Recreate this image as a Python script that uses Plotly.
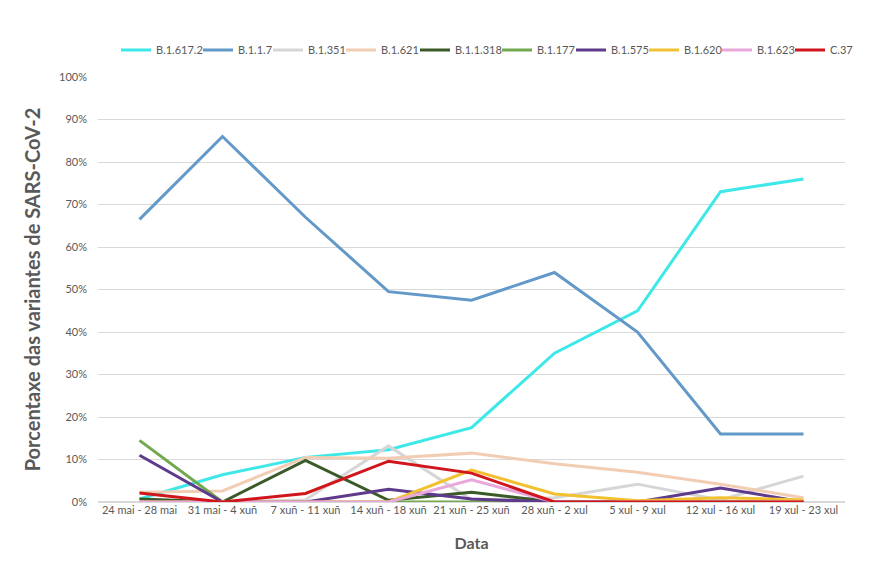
import plotly.graph_objects as go

categories = ["24 mai - 28 mai", "31 mai - 4 xuñ", "7 xuñ - 11 xuñ", "14 xuñ - 18 xuñ",
              "21 xuñ - 25 xuñ", "28 xuñ - 2 xul", "5 xul - 9 xul", "12 xul - 16 xul",
              "19 xul - 23 xul"]

b1617_2 = [0.7, 6.4, 10.5, 12.3, 17.5, 35, 45, 73, 76]
b117 = [66.5, 86, 67, 49.5, 47.5, 54, 40, 16, 16]
b1351 = [0, 0, 0.5, 13.2, 0.5, 1, 4.2, 0.5, 6.1]
b1621 = [2.3, 2.6, 10.5, 10.3, 11.5, 9, 7, 4.2, 1]
b11318 = [0.7, 0, 9.8, 0.4, 2.3, 0, 0, 0, 0]
b1177 = [14.5, 0, 0, 0, 0, 0, 0, 0, 0]
b1575 = [11, 0, 0, 3, 0.7, 0, 0, 3.3, 0]
b1620 = [0, 0, 0, 0, 7.5, 1.9, 0.3, 1, 0.5]
b1623 = [0, 0, 0, 0, 5.2, 0, 0, 0, 0]
c37 = [2.1, 0, 2, 9.6, 6.8, 0, 0, 0, 0]

series = [
    ("B.1.617.2", b1617_2, "#3FE8E8"),
    ("B.1.1.7", b117, "#6399C8"),
    ("B.1.351", b1351, "#D6D6D6"),
    ("B.1.621", b1621, "#F2CDB3"),
    ("B.1.1.318", b11318, "#3A5A28"),
    ("B.1.177", b1177, "#72A84E"),
    ("B.1.575", b1575, "#5E3A8C"),
    ("B.1.620", b1620, "#F2C132"),
    ("B.1.623", b1623, "#E8A8DC"),
    ("C.37", c37, "#D0161C"),
]

# left edge (px) of each legend entry, one legend per series to mimic spacing
legend_left_px = [116, 198, 268, 341, 415, 497, 571, 644, 717, 790]

W, H = 892, 563
fig = go.Figure()
layout_legends = {}
for i, (name, vals, col) in enumerate(series):
    lname = "legend" if i == 0 else f"legend{i + 1}"
    fig.add_trace(go.Scatter(
        x=categories, y=[v / 100 for v in vals], name=name, mode="lines",
        line=dict(color=col, width=3), hoverinfo="skip", legend=lname))
    layout_legends[lname] = dict(
        orientation="h", x=legend_left_px[i] / W, xref="container", xanchor="left",
        y=1 - 50 / H, yref="container", yanchor="middle",
        font=dict(size=11, color="#595959"), bgcolor="rgba(0,0,0,0)",
        itemwidth=30, tracegroupgap=0)

fig.update_layout(
    width=W, height=H,
    paper_bgcolor="white", plot_bgcolor="white",
    margin=dict(l=98, r=47, t=77, b=61, autoexpand=False),
    font=dict(family="Lato, Open Sans, sans-serif", color="#595959", size=11),
    showlegend=True,
    xaxis=dict(showgrid=False, showline=False, zeroline=False, ticks="",
               tickfont=dict(size=11, color="#595959"),
               title=dict(text="<b>Data</b>", font=dict(size=16, color="#595959"), standoff=22),
               range=[-0.5, 8.5]),
    yaxis=dict(range=[0, 1], tickformat=".0%", dtick=0.1, showgrid=True,
               gridcolor="#D9D9D9", gridwidth=1, zeroline=True, zerolinecolor="#D9D9D9",
               showline=False, ticks="", ticklabelstandoff=10,
               tickfont=dict(size=11, color="#595959"),
               title=dict(text="<b>Porcentaxe das variantes de SARS-CoV-2</b>",
                          font=dict(size=20, color="#595959"), standoff=13)),
    **layout_legends,
)

fig.write_html("out.html")
